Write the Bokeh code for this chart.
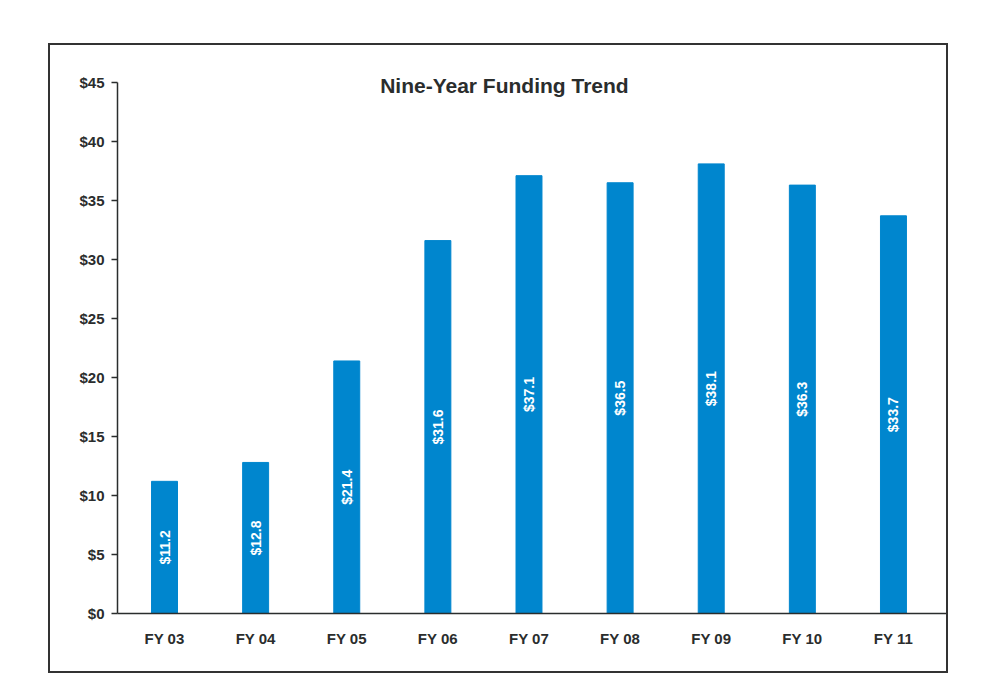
import math
from bokeh.plotting import figure
from bokeh.layouts import column, row
from bokeh.models import (ColumnDataSource, FixedTicker, PrintfTickFormatter,
                          Label, Spacer, Range1d)
from bokeh.embed import file_html
from bokeh.resources import INLINE
from bokeh.core.properties import value

# ---- data ----
categories = ["FY 03", "FY 04", "FY 05", "FY 06", "FY 07", "FY 08", "FY 09", "FY 10", "FY 11"]
funding = [11.2, 12.8, 21.4, 31.6, 37.1, 36.5, 38.1, 36.3, 33.7]
bar_labels = ["$11.2", "$12.8", "$21.4", "$31.6", "$37.1", "$36.5", "$38.1", "$36.3", "$33.7"]
y_ticks = [0, 5, 10, 15, 20, 25, 30, 35, 40, 45]
title_text = "Nine-Year Funding Trend"

FONT = "Liberation Sans"
DARK = "#2a2d2d"
BLUE = "#0086CE"

xs = list(range(len(categories)))
src = ColumnDataSource(dict(
    x=xs,
    top=funding,
    mid=[v / 2 for v in funding],
    lab=bar_labels,
))

p = figure(width=900, height=630, output_backend="svg", toolbar_location=None,
           x_range=Range1d(-0.516, 8.593), y_range=Range1d(0, 47.03),
           min_border_left=67, min_border_right=3, min_border_top=13,
           min_border_bottom=62)
p.styles = {"border": "2px solid #333"}

p.vbar(x="x", top="top", bottom=0, width=0.285, color=BLUE, source=src)
p.text(x="x", y="mid", text="lab", angle=math.pi / 2, source=src,
       text_color="white", text_font=value(FONT), text_font_style="bold",
       text_font_size="14px", text_align="center", text_baseline="middle")

p.add_layout(Label(x=3.73, y=44.75, text=title_text, text_font=FONT,
                   text_font_style="bold", text_font_size="21px",
                   text_color=DARK, text_align="center",
                   text_baseline="middle"))

p.xgrid.visible = False
p.ygrid.visible = False
p.outline_line_color = None
p.background_fill_color = "white"
p.border_fill_color = "white"

xa = p.xaxis[0]
xa.ticker = FixedTicker(ticks=xs)
xa.major_label_overrides = {i: c for i, c in enumerate(categories)}
xa.major_tick_out = 0
xa.major_tick_in = 0
xa.minor_tick_out = 0
xa.minor_tick_in = 0
xa.major_label_standoff = 16
xa.axis_line_color = DARK
xa.axis_line_width = 1.5
xa.major_label_text_font = FONT
xa.major_label_text_font_style = "bold"
xa.major_label_text_font_size = "15px"
xa.major_label_text_color = DARK

ya = p.yaxis[0]
ya.ticker = FixedTicker(ticks=y_ticks)
ya.bounds = (0, 45)
ya.formatter = PrintfTickFormatter(format="$%d")
ya.major_tick_out = 6
ya.major_tick_in = 0
ya.minor_tick_out = 0
ya.minor_tick_in = 0
ya.major_tick_line_color = DARK
ya.major_tick_line_width = 1.5
ya.major_label_standoff = 7
ya.axis_line_color = DARK
ya.axis_line_width = 1.5
ya.major_label_text_font = FONT
ya.major_label_text_font_style = "bold"
ya.major_label_text_font_size = "15px"
ya.major_label_text_color = DARK

layout = column(Spacer(height=43), row(Spacer(width=48), p))

open("out.html", "w").write(file_html(layout, INLINE))
